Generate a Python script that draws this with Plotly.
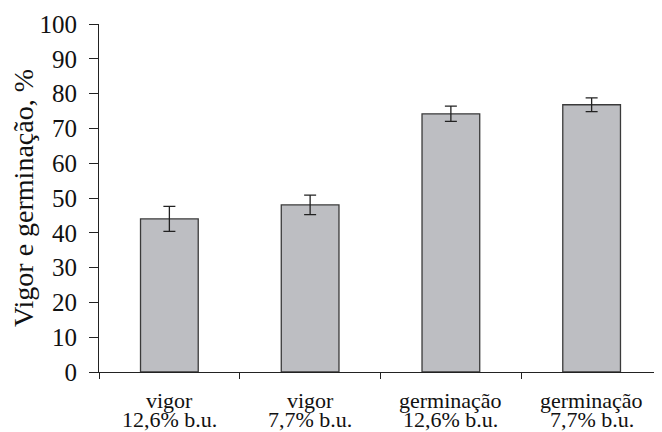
import plotly.graph_objects as go

categories = ["vigor 12,6%", "vigor 7,7%", "germinação 12,6%", "germinação 7,7%"]
label_line1 = ["vigor", "vigor", "germinação", "germinação"]
label_line2 = ["12,6% b.u.", "7,7% b.u.", "12,6% b.u.", "7,7% b.u."]
values = [44.0, 48.0, 74.2, 76.8]
errors = [3.6, 2.8, 2.2, 2.0]
y_ticks = [0, 10, 20, 30, 40, 50, 60, 70, 80, 90, 100]

serif = "Liberation Serif, Times New Roman, serif"

fig = go.Figure()
fig.add_trace(go.Bar(
    x=categories, y=values,
    width=0.41,
    marker=dict(color="#bdbec2", line=dict(color="#3a3a3a", width=1.3)),
    error_y=dict(type="data", array=errors, visible=True, color="#222222", thickness=1.3, width=6),
))

for cat, l1, l2 in zip(categories, label_line1, label_line2):
    fig.add_annotation(x=cat, y=0, xref="x", yref="y", text=l1, showarrow=False,
                       yanchor="middle", yshift=-28, font=dict(family=serif, size=22, color="#111111"))
    fig.add_annotation(x=cat, y=0, xref="x", yref="y", text=l2, showarrow=False,
                       yanchor="middle", yshift=-47, font=dict(family=serif, size=22, color="#111111"))

# page body has an 8px margin, so the figure is sized to fit the 662x432 window
fig.update_layout(
    width=654, height=424,
    margin=dict(l=91, r=0, t=16, b=60),
    plot_bgcolor="white", paper_bgcolor="white",
    showlegend=False,
    font=dict(family=serif, color="#111111"),
)
fig.update_xaxes(
    range=[-0.5, 3.5],
    showline=True, linecolor="#222222", linewidth=1.2,
    ticks="outside", tickson="boundaries", ticklen=6, tickcolor="#222222", tickwidth=1.2,
    showgrid=False, zeroline=False, showticklabels=False,
)
fig.update_yaxes(
    range=[0, 100], tickvals=y_ticks,
    showline=True, linecolor="#222222", linewidth=1.2,
    ticks="outside", ticklen=9, tickcolor="#222222", tickwidth=1.2,
    showgrid=False, zeroline=False,
    ticklabelstandoff=7,
    tickfont=dict(family=serif, size=25, color="#111111"),
    title=dict(text="Vigor e germinação, %", font=dict(family=serif, size=28, color="#111111"), standoff=5),
)

fig.write_html("out.html")
